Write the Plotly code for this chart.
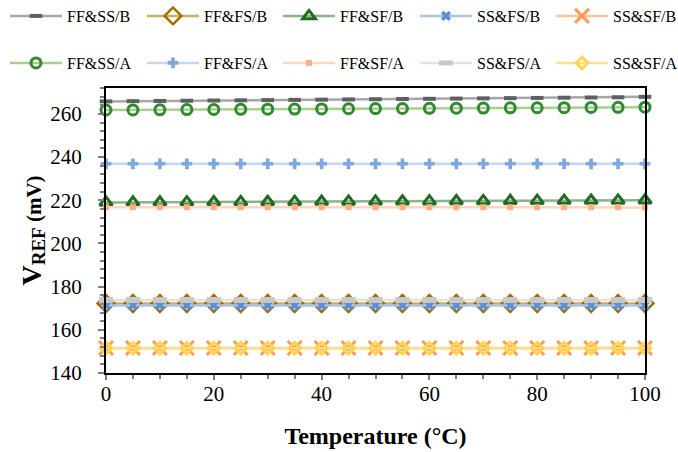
import plotly.graph_objects as go

temps = [0, 5, 10, 15, 20, 25, 30, 35, 40, 45, 50, 55, 60, 65, 70, 75, 80, 85, 90, 95, 100]

ffss_b = [265.8, 265.9, 266.0, 266.1, 266.2, 266.3, 266.4, 266.5, 266.6, 266.7, 266.8, 266.9, 267.0, 267.1, 267.2, 267.3, 267.4, 267.5, 267.6, 267.7, 267.9]
fffs_b = [172.2] * 21
ffsf_b = [219.0, 219.05, 219.1, 219.15, 219.2, 219.25, 219.3, 219.35, 219.4, 219.45, 219.5, 219.55, 219.6, 219.65, 219.7, 219.75, 219.8, 219.85, 219.9, 219.95, 220.0]
ssfs_b = [171.3] * 21
sssf_b = [151.6] * 21
ffss_a = [261.8, 261.85, 261.9, 262.0, 262.05, 262.1, 262.2, 262.25, 262.3, 262.4, 262.45, 262.5, 262.6, 262.65, 262.7, 262.8, 262.85, 262.9, 263.0, 263.05, 263.1]
fffs_a = [236.9] * 21
ffsf_a = [216.8, 216.8, 216.8, 216.8, 216.8, 216.8, 216.8, 216.8, 216.8, 216.8, 216.8, 216.8, 216.8, 216.8, 216.8, 216.8, 216.8, 216.8, 216.8, 216.8, 216.7]
ssfs_a = [173.8] * 21
sssf_a = [151.5] * 21

FONT = "Liberation Serif"

series = [
    # name, values, line color, marker symbol, marker color, size, marker line width
    ("FF&SS/B", ffss_b, "#a6a6a6", "line-ew", "#5f5f5f", 9, 4),
    ("FF&FS/B", fffs_b, "#cfae5a", "diamond-open", "#a07000", 13, 2.5),
    ("FF&SF/B", ffsf_b, "#8fb08f", "triangle-up-open", "#1f6b1f", 11, 3),
    ("SS&FS/B", ssfs_b, "#a9c4ea", "x", "#5b8fd6", 9, 0),
    ("SS&SF/B", sssf_b, "#ffc4a0", "x-thin", "#ff9955", 14, 3),
    ("FF&SS/A", ffss_a, "#a8d08d", "circle-open", "#2e8b2e", 10, 3),
    ("FF&FS/A", fffs_a, "#c5d7f2", "cross", "#7ea6e0", 9, 0),
    ("FF&SF/A", ffsf_a, "#ffd5bc", "square", "#ffad80", 6, 0),
    ("SS&FS/A", ssfs_a, "#e2e2e2", "line-ew", "#c8c8c8", 10, 6),
    ("SS&SF/A", sssf_a, "#ffe08a", "diamond-open", "#ffd54f", 9, 3),
]

ML, MR, MT, MB = 106, 33, 88, 79
W, H = 678, 452
PW, PH = W - ML - MR, H - MT - MB
ITEMW = 52
text_starts = [69, 206, 342, 479, 615]
row_tops = [-1, 46]

fig = go.Figure()
layout_legends = {}
for i, (name, vals, lc, sym, mc, size, mlw) in enumerate(series):
    marker = dict(symbol=sym, color=mc, size=size)
    if mlw:
        marker["line"] = dict(color=mc, width=mlw)
    lg = "legend" if i == 0 else f"legend{i + 1}"
    fig.add_trace(go.Scatter(
        x=temps, y=vals, name=name, mode="lines+markers",
        line=dict(color=lc, width=2.5), marker=marker, legend=lg,
        cliponaxis=False, showlegend=True,
    ))
    col, row = i % 5, i // 5
    left_px = text_starts[col] - (ITEMW + 12)
    layout_legends[lg] = dict(
        orientation="h", xref="paper", yref="paper", xanchor="left", yanchor="top",
        x=(left_px - ML) / PW, y=1 + (MT - row_tops[row]) / PH,
        font=dict(family=FONT, size=16, color="black"),
        bgcolor="rgba(0,0,0,0)", itemwidth=ITEMW, visible=True,
    )

fig.update_layout(
    width=W, height=H, showlegend=True,
    paper_bgcolor="white", plot_bgcolor="white",
    margin=dict(l=ML, r=MR, t=MT, b=MB, autoexpand=False),
    font=dict(family=FONT, color="black"),
    xaxis=dict(
        range=[0, 100], dtick=20, tick0=0,
        showline=True, linecolor="black", linewidth=2, mirror=True,
        ticks="outside", ticklen=5, tickcolor="#7f7f7f", tickwidth=1.5,
        minor=dict(dtick=5, ticks="outside", ticklen=4, tickcolor="#7f7f7f", tickwidth=1.5),
        showgrid=False, zeroline=False, automargin=False, ticklabelstandoff=-4,
        tickfont=dict(family=FONT, size=21, color="black"),
        title=dict(text="<b>Temperature (°C)</b>", font=dict(family=FONT, size=24, color="black"), standoff=22),
    ),
    yaxis=dict(
        range=[140, 272], dtick=20, tick0=140,
        showline=True, linecolor="black", linewidth=2, mirror=True,
        ticks="outside", ticklen=6, tickcolor="#7f7f7f", tickwidth=1.5,
        minor=dict(dtick=4, ticks="outside", ticklen=4, tickcolor="#7f7f7f", tickwidth=1.5),
        showgrid=False, zeroline=False, automargin=False, ticklabelstandoff=12,
        tickfont=dict(family=FONT, size=21, color="black"),
        title=dict(
            text="<b><span style='font-size:28px'>V</span><sub><span style='font-size:19px'>REF</span></sub> (mV)</b>",
            font=dict(family=FONT, size=21, color="black"), standoff=3,
        ),
    ),
    **layout_legends,
)

fig.write_html("out.html", config={"displayModeBar": False},
               post_script="document.body.style.margin='0';")
